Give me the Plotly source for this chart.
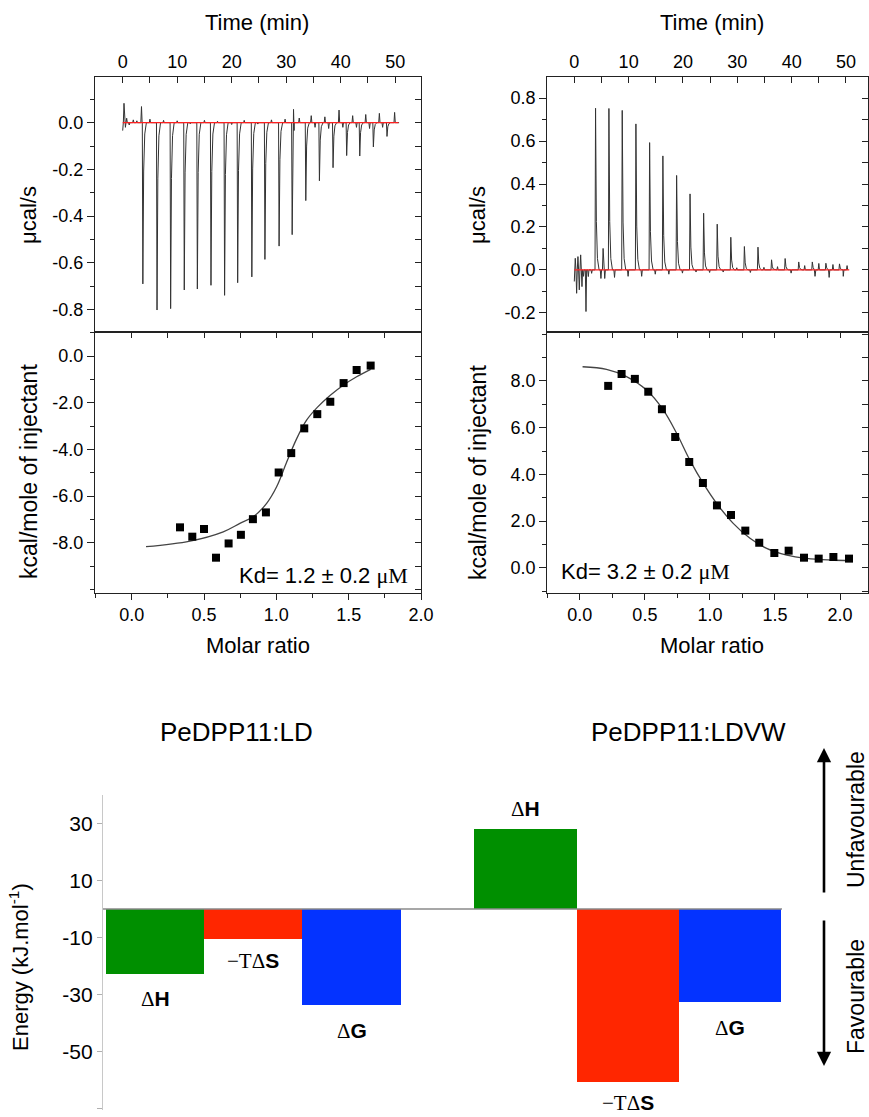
import plotly.graph_objects as go

W, H = 869, 1117
def px(x): return x / W
def py(y): return 1 - y / H

FONT = "Liberation Sans, Arial, Helvetica, sans-serif"
SERIF = "Liberation Serif"

# ------------------------------------------------------------------ data
time_ticks = [0, 10, 20, 30, 40, 50]
molar_ticks = [0.0, 0.5, 1.0, 1.5, 2.0]

# PeDPP11:LD raw thermogram - injection times (min) and peak heights (ucal/s)
ld_inj_time = [3.6, 6.2, 8.7, 11.2, 13.6, 16.1, 18.6, 21.0, 23.6, 26.0, 28.6, 31.0,
               33.5, 36.0, 38.5, 41.0, 43.4, 45.9, 48.4]
ld_inj_peak = [-0.691, -0.803, -0.797, -0.717, -0.713, -0.697, -0.740, -0.686, -0.661,
               -0.586, -0.529, -0.480, -0.334, -0.249, -0.193, -0.141, -0.143, -0.104, -0.059]
# short baseline spikes / wiggles (min, ucal/s)
ld_noise_time = [0.0, 0.24, 0.5, 0.73, 1.2, 1.95, 2.6, 3.45, 5.0, 7.5, 10.0, 12.4,
                 15.0, 17.4, 20.0, 22.3, 24.8, 27.3, 29.8, 31.35, 32.4, 34.6, 35.3, 37.1, 37.8,
                 39.7, 40.4, 42.2, 42.9, 44.6, 45.3, 47.1, 47.7, 49.9, 50.6]
ld_noise_val = [-0.034, 0.083, -0.02, 0.019, -0.01, 0.012, 0.008, 0.069, 0.015, 0.01,
                0.008, -0.005, 0.01, 0.006, -0.008, 0.01, -0.006, 0.012, 0.015, 0.057, 0.02,
                0.03, -0.02, 0.025, -0.025, 0.054, -0.02, 0.03, -0.02, 0.035, -0.025, 0.04,
                -0.02, 0.044, 0.0]

# PeDPP11:LDVW raw thermogram
ldvw_inj_time = [3.81, 6.27, 8.72, 11.24, 13.76, 16.2, 18.73, 21.2, 23.7, 26.2, 28.7, 31.2,
                 33.7, 36.2, 38.7, 41.2, 43.7, 46.2, 48.7]
ldvw_inj_peak = [0.753, 0.752, 0.743, 0.680, 0.593, 0.531, 0.440, 0.354, 0.264, 0.213, 0.152,
                 0.109, 0.106, 0.047, 0.053, 0.037, 0.037, 0.031, 0.028]
ldvw_noise_time = [0.0, 0.18, 0.43, 0.67, 0.92, 1.17, 1.41, 1.7, 2.15, 2.58, 3.19, 4.9, 5.3,
                   5.6, 7.4, 9.9, 12.4, 14.9, 17.4, 19.9, 22.4, 24.9, 27.4, 29.9, 32.4, 34.9,
                   37.4, 39.9, 42.4, 44.3, 45.0, 46.9, 47.6, 49.5, 50.2]
ldvw_noise_val = [-0.054, 0.054, -0.109, 0.062, -0.093, 0.07, -0.078, -0.03, -0.194, -0.031,
                  -0.016, -0.04, 0.10, -0.04, -0.035, -0.03, -0.03, -0.02, -0.02, -0.015,
                  -0.01, -0.012, -0.01, 0.01, -0.012, 0.012, 0.015, -0.015, 0.02, -0.03, 0.03,
                  -0.035, 0.025, -0.03, 0.02]

baseline_time = [0.0, 50.6]
baseline_val = [0.0, 0.0]

# integrated heats (kcal/mole of injectant vs molar ratio)
ld_ratio = [0.334, 0.419, 0.500, 0.583, 0.670, 0.755, 0.838, 0.928, 1.016, 1.103, 1.193,
            1.283, 1.373, 1.465, 1.555, 1.652]
ld_heat = [-7.34, -7.74, -7.41, -8.64, -8.03, -7.66, -6.99, -6.70, -4.99, -4.16, -3.10,
           -2.49, -1.96, -1.16, -0.60, -0.41]
ld_fit_ratio = [0.099, 0.403, 0.633, 0.748, 0.840, 0.933, 1.002, 1.071, 1.140, 1.209, 1.283,
                1.373, 1.465, 1.555, 1.652]
ld_fit_heat = [-8.17, -7.93, -7.53, -7.17, -6.89, -6.31, -5.60, -4.55, -3.55, -2.75, -2.20,
               -1.68, -1.24, -0.89, -0.57]

ldvw_ratio = [0.218, 0.321, 0.423, 0.526, 0.631, 0.733, 0.841, 0.946, 1.054, 1.162, 1.272,
              1.379, 1.495, 1.605, 1.723, 1.836, 1.949, 2.069]
ldvw_heat = [7.79, 8.30, 8.09, 7.54, 6.79, 5.60, 4.53, 3.63, 2.67, 2.26, 1.59, 1.07, 0.63,
             0.73, 0.43, 0.39, 0.46, 0.39]
ldvw_fit_ratio = [0.021, 0.205, 0.359, 0.513, 0.641, 0.744, 0.846, 0.949, 1.051, 1.179, 1.308,
                  1.436, 1.590, 1.744, 1.923, 2.090]
ldvw_fit_heat = [8.61, 8.50, 8.19, 7.61, 6.76, 5.76, 4.61, 3.61, 2.76, 1.90, 1.26, 0.83, 0.54,
                 0.40, 0.33, 0.30]

ld_kd = "Kd= 1.2 ± 0.2"
ldvw_kd = "Kd= 3.2 ± 0.2"

# thermodynamic signature (kJ/mol)
complexes = ["PeDPP11:LD", "PeDPP11:LDVW"]
terms = ["ΔH", "−TΔS", "ΔG"]
ld_energy = [-23.0, -10.4, -33.9]
ldvw_energy = [27.9, -60.9, -32.8]
energy_ticks = [-70, -50, -30, -10, 10, 30]

# ------------------------------------------------------------------ helpers
peak_dt = [0.0, 0.1, 0.25, 0.45, 0.75]       # shape of one injection peak
peak_frac = [0.0, 1.0, 0.3, 0.07, 0.0]
spike_dt = [-0.12, 0.0, 0.12]                # shape of one baseline wiggle
spike_frac = [0.0, 1.0, 0.0]

def thermogram(inj_t, inj_h, noise_t, noise_v):
    pts = []
    for t, h in zip(noise_t, noise_v):
        for dt, f in zip(spike_dt, spike_frac):
            pts.append((t + dt, h * f))
    for t, h in zip(inj_t, inj_h):
        for dt, f in zip(peak_dt, peak_frac):
            pts.append((t + dt, h * f))
    pts.sort()
    pts = [p for p in pts if p[0] >= 0]
    return [p[0] for p in pts], [p[1] for p in pts]

LC = "#222222"
AX = dict(showgrid=False, zeroline=False, showline=True, linecolor=LC, linewidth=1.2,
          tickcolor=LC, tickwidth=1.2, autorange=False, fixedrange=True, automargin=False,
          tickfont=dict(family=FONT, size=18, color="black"))

def fmt1(v):
    return "%.1f" % v

def steps(a, b, d):
    n = int(round((b - a) / d))
    return [round(a + i * d, 4) for i in range(n + 1)]

fig = go.Figure()
layout = {}

columns = [
    dict(xd=[px(95), px(421)], trange=[-5.08, 54.74], mrange=[-0.2536, 2.0],
         yr_top=[-0.895, 0.197], top_ticks=[-0.8, -0.6, -0.4, -0.2, 0.0], top_minor=steps(-0.8, 0.1, 0.1),
         yr_bot=[-10.14, 1.05], bot_ticks=[-8, -6, -4, -2, 0], bot_minor=steps(-10, 1, 1),
         therm=(ld_inj_time, ld_inj_peak, ld_noise_time, ld_noise_val),
         pts=(ld_ratio, ld_heat), fit=(ld_fit_ratio, ld_fit_heat)),
    dict(xd=[px(547.3), px(868)], trange=[-4.97, 54.05], mrange=[-0.25, 2.215],
         yr_top=[-0.287, 0.90], top_ticks=[-0.2, 0.0, 0.2, 0.4, 0.6, 0.8], top_minor=steps(-0.2, 0.8, 0.1),
         yr_bot=[-1.07, 10.12], bot_ticks=[0, 2, 4, 6, 8], bot_minor=steps(-1, 10, 1),
         therm=(ldvw_inj_time, ldvw_inj_peak, ldvw_noise_time, ldvw_noise_val),
         pts=(ldvw_ratio, ldvw_heat), fit=(ldvw_fit_ratio, ldvw_fit_heat)),
]
axis_ids = [
    dict(xt="x", yt="y", ytm="y2", xm="x2", yb="y3", ybm="y4", xmm="x3"),
    dict(xt="x4", yt="y5", ytm="y6", xm="x5", yb="y7", ybm="y8", xmm="x6"),
]

def lname(a):
    return ("xaxis" if a[0] == "x" else "yaxis") + a[1:]

top_dom = [py(331.5), py(76.7)]
bot_dom = [py(592.7), py(331.5)]

for col, ids in zip(columns, axis_ids):
    layout[lname(ids["xt"])] = dict(AX, domain=col["xd"], range=col["trange"], anchor=ids["yt"],
        side="top", mirror=True, tickmode="array", tickvals=time_ticks,
        ticktext=[str(v) for v in time_ticks], ticks="inside", ticklen=6,
        minor=dict(dtick=5, tick0=0, ticks="inside", ticklen=6, tickcolor=LC, tickwidth=1.2))
    layout[lname(ids["yt"])] = dict(AX, domain=top_dom, range=col["yr_top"], anchor=ids["xt"],
        mirror=True, tickmode="array", tickvals=col["top_ticks"],
        ticktext=[fmt1(v) for v in col["top_ticks"]], ticks="outside", ticklen=7,
        minor=dict(tickvals=col["top_minor"], ticks="outside", ticklen=4, tickcolor=LC, tickwidth=1.2))
    layout[lname(ids["ytm"])] = dict(overlaying=ids["yt"], anchor=ids["xt"], side="right",
        range=col["yr_top"], autorange=False, showgrid=False, zeroline=False, showline=False,
        tickmode="array", tickvals=col["top_minor"], ticks="inside", ticklen=6, automargin=False,
        tickcolor=LC, tickwidth=1.2, showticklabels=False, fixedrange=True)
    layout[lname(ids["xm"])] = dict(AX, domain=col["xd"], range=col["mrange"], anchor=ids["yb"],
        mirror=True, tickmode="array", tickvals=molar_ticks,
        ticktext=[fmt1(v) for v in molar_ticks], ticks="outside", ticklen=6,
        minor=dict(dtick=0.25, tick0=0, ticks="outside", ticklen=4, tickcolor=LC, tickwidth=1.2))
    layout[lname(ids["xmm"])] = dict(overlaying=ids["xm"], anchor=ids["yb"], side="top",
        range=col["mrange"], autorange=False, showgrid=False, zeroline=False, showline=False,
        tickmode="array", tickvals=steps(0, 2.0, 0.25), ticks="inside", ticklen=6, automargin=False,
        tickcolor=LC, tickwidth=1.2, showticklabels=False, fixedrange=True)
    layout[lname(ids["yb"])] = dict(AX, domain=bot_dom, range=col["yr_bot"], anchor=ids["xm"],
        mirror=True, tickmode="array", tickvals=col["bot_ticks"],
        ticktext=[fmt1(v) for v in col["bot_ticks"]], ticks="outside", ticklen=7,
        minor=dict(tickvals=col["bot_minor"], ticks="outside", ticklen=4, tickcolor=LC, tickwidth=1.2))
    layout[lname(ids["ybm"])] = dict(overlaying=ids["yb"], anchor=ids["xm"], side="right",
        range=col["yr_bot"], autorange=False, showgrid=False, zeroline=False, showline=False,
        tickmode="array", tickvals=col["bot_minor"], ticks="inside", ticklen=6, automargin=False,
        tickcolor=LC, tickwidth=1.2, showticklabels=False, fixedrange=True)

    tx, ty = thermogram(*col["therm"])
    fig.add_trace(go.Scatter(x=tx, y=ty, mode="lines", line=dict(color="#333333", width=1),
                             xaxis=ids["xt"], yaxis=ids["yt"], showlegend=False, hoverinfo="skip"))
    fig.add_trace(go.Scatter(x=baseline_time, y=baseline_val, mode="lines",
                             line=dict(color="#FF2020", width=1.2),
                             xaxis=ids["xt"], yaxis=ids["yt"], showlegend=False))
    fig.add_trace(go.Scatter(x=col["fit"][0], y=col["fit"][1], mode="lines", line_shape="spline",
                             line=dict(color="#444444", width=1.3),
                             xaxis=ids["xm"], yaxis=ids["yb"], showlegend=False))
    fig.add_trace(go.Scatter(x=col["pts"][0], y=col["pts"][1], mode="markers",
                             marker=dict(symbol="square", size=8, color="black"),
                             xaxis=ids["xm"], yaxis=ids["yb"], showlegend=False, cliponaxis=False))
    # placeholders so the mirror (inside-tick) axes are drawn
    for xa, ya in [(ids["xt"], ids["ytm"]), (ids["xmm"], ids["yb"]), (ids["xm"], ids["ybm"])]:
        fig.add_trace(go.Scatter(x=[None], y=[None], mode="markers", xaxis=xa, yaxis=ya,
                                 showlegend=False, hoverinfo="skip"))

# ------------------------------------------------------------------ energy bars
term_colors = ["#008F00", "#FF2600", "#0433FF"]
bar_pos = [[0.0, 0.98, 1.965], [3.705, 4.73, 5.75]]
bar_w = [[0.98, 0.98, 0.99], [1.03, 1.02, 1.02]]
label_shift = [[-25, -22, -26], [20, -21, -26]]
energies = [ld_energy, ldvw_energy]

layout["xaxis7"] = dict(domain=[px(103), px(790)], range=[-0.52, 6.35], anchor="y9",
                        visible=False, autorange=False, fixedrange=True, automargin=False)
layout["yaxis9"] = dict(domain=[py(1110), py(795)], range=[-70.6, 40], anchor="x7",
                        autorange=False, fixedrange=True, showgrid=False, zeroline=False,
                        showline=True, linecolor="#c8c8c8", linewidth=1.2, automargin=False,
                        tickmode="array", tickvals=energy_ticks,
                        ticktext=[str(v) for v in energy_ticks],
                        ticks="outside", ticklen=5, tickcolor="#b0b0b0", tickwidth=1,
                        tickfont=dict(family=FONT, size=21, color="black"))

annotations = []
for k in range(2):
    fig.add_trace(go.Bar(x=bar_pos[k], y=energies[k], width=bar_w[k],
                         marker=dict(color=term_colors, line=dict(width=0)),
                         xaxis="x7", yaxis="y9", showlegend=False))
    for j in range(3):
        v = energies[k][j]
        txt = terms[j]
        if txt.startswith("−"):
            lab = '<span style="font-family:%s">−TΔ</span><b>S</b>' % SERIF
        else:
            lab = '<span style="font-family:%s">Δ</span><b>%s</b>' % (SERIF, txt[1:])
        annotations.append(dict(x=bar_pos[k][j], y=v, xref="x7", yref="y9", text=lab,
                                showarrow=False, yshift=label_shift[k][j], yanchor="middle",
                                font=dict(family=FONT, size=21, color="black")))

fig.add_shape(type="line", x0=-0.52, x1=6.27, y0=0, y1=0, xref="x7", yref="y9",
              line=dict(color="#8a8a8a", width=1.5), layer="above")

# ------------------------------------------------------------------ texts
def ann(x, y, text, size, angle=0, xanchor="center", yanchor="middle", family=FONT):
    annotations.append(dict(x=px(x), y=py(y), xref="paper", yref="paper", text=text,
                            showarrow=False, textangle=angle, xanchor=xanchor, yanchor=yanchor,
                            font=dict(family=family, size=size, color="black")))

for cx in (257, 712):
    ann(cx, 22, "Time (min)", 22)
for cx in (258, 712):
    ann(cx, 645, "Molar ratio", 22)
for cx in (29, 478):
    ann(cx, 215, "μcal/s", 22, angle=-90)
    ann(cx, 472, "kcal/mole of injectant", 23, angle=-90)

mu = ' <span style="font-family:%s">μM</span>' % SERIF
ann(410, 575, ld_kd + mu, 22, xanchor="right")
ann(559, 571, ldvw_kd + mu, 22, xanchor="left")

ann(237, 732, complexes[0], 26)
ann(688, 732, complexes[1], 26)
ann(19, 967, "Energy (kJ.mol<sup>-1</sup>)", 22, angle=-90)
ann(856, 820, "Unfavourable", 23, angle=-90)
ann(856, 997, "Favourable", 23, angle=-90)

annotations.append(dict(x=px(824), y=py(748), xref="paper", yref="paper", ax=0, ay=146,
                        text="", showarrow=True, arrowhead=2, arrowsize=1.1, arrowwidth=2.6,
                        arrowcolor="black", standoff=0, startstandoff=0))
annotations.append(dict(x=px(824), y=py(1066), xref="paper", yref="paper", ax=0, ay=-147,
                        text="", showarrow=True, arrowhead=2, arrowsize=1.1, arrowwidth=2.6,
                        arrowcolor="black", standoff=0, startstandoff=0))

fig.update_layout(width=W, height=H, autosize=False,
                  margin=dict(l=0, r=0, t=0, b=0, autoexpand=False),
                  paper_bgcolor="white", plot_bgcolor="white", annotations=annotations,
                  font=dict(family=FONT, color="black"), bargap=0, **layout)

post = ("document.documentElement.style.margin='0';document.body.style.margin='0';"
        "document.documentElement.style.overflow='hidden';document.body.style.overflow='hidden';")
fig.write_html("out.html", config={"displayModeBar": False}, post_script=post)
